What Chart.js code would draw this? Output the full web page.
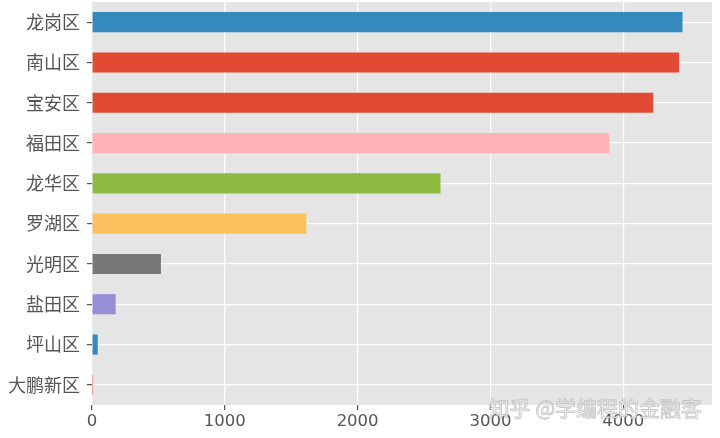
<!DOCTYPE html>
<html>
<head>
<meta charset="utf-8">
<script src="https://cdn.jsdelivr.net/npm/chart.js@4/dist/chart.umd.min.js"></script>
<style>
  html, body { margin: 0; padding: 0; background: #fff; }
  #wrap { width: 720px; height: 438px; position: relative; }
</style>
</head>
<body>
<div id="wrap"><canvas id="chart"></canvas></div>
<script>
// data
const districts = ["龙岗区", "南山区", "宝安区", "福田区", "龙华区", "罗湖区", "光明区", "盐田区", "坪山区", "大鹏新区"];
const counts = [4446, 4421, 4226, 3895, 2624, 1614, 519, 178, 43, 8];
const barColors = ["#348ABD", "#E24A33", "#E24A33", "#FFB5B8", "#8EBA42", "#FBC15E", "#777777", "#988ED5", "#348ABD", "#E24A33"];
const xTicks = [0, 1000, 2000, 3000, 4000];
const watermark = "知乎 @学编程的金融客";

const xMax = Math.max(...counts) * 1.05;

// gray panel behind the plot, plus the watermark on top
const panel = {
  id: "panel",
  beforeDraw(chart) {
    const { ctx, chartArea: a } = chart;
    ctx.save();
    ctx.fillStyle = "#E5E5E5";
    ctx.fillRect(a.left, a.top, a.right - a.left, a.bottom - a.top);
    ctx.restore();
  },
  afterDraw(chart) {
    const ctx = chart.ctx;
    ctx.save();
    ctx.font = "21px 'Noto Sans CJK SC'";
    ctx.textAlign = "right";
    ctx.textBaseline = "middle";
    ctx.lineWidth = 1;
    ctx.fillStyle = "rgba(255,255,255,0.8)";
    ctx.strokeStyle = "rgba(170,170,170,0.6)";
    ctx.fillText(watermark, 702, 408);
    ctx.strokeText(watermark, 702, 408);
    ctx.restore();
  }
};

new Chart(document.getElementById("chart"), {
  type: "bar",
  data: {
    labels: districts,
    datasets: [{
      data: counts,
      backgroundColor: barColors,
      borderWidth: 0,
      categoryPercentage: 1,
      barPercentage: 0.5
    }]
  },
  options: {
    indexAxis: "y",
    responsive: true,
    maintainAspectRatio: false,
    animation: false,
    layout: { padding: { top: 2, right: 8, left: 0, bottom: 0 } },
    plugins: { legend: { display: false }, tooltip: { enabled: false } },
    scales: {
      x: {
        min: 0,
        max: xMax,
        afterBuildTicks: (s) => { s.ticks = xTicks.map(v => ({ value: v })); },
        afterFit: (s) => { s.height = 33; },
        border: { display: false },
        grid: { color: "#FFFFFF", lineWidth: 1.2, tickColor: "#555555", tickLength: 5 },
        ticks: {
          color: "#555555", padding: 2,
          font: { family: "'DejaVu Sans'", size: 16.5 },
          callback: (v) => String(v)
        }
      },
      y: {
        afterFit: (s) => { s.width = 92; s.paddingTop = 0; s.paddingBottom = 0; },
        border: { display: false },
        grid: { color: "#FFFFFF", lineWidth: 1.2, tickColor: "#555555", tickLength: 5, offset: false },
        ticks: { color: "#555555", padding: 7, font: { family: "'Noto Sans CJK SC'", size: 18 } }
      }
    }
  },
  plugins: [panel]
});
</script>
</body>
</html>
